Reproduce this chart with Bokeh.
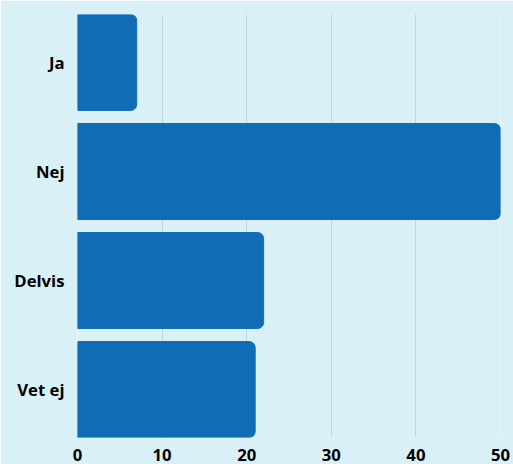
from bokeh.plotting import figure
from bokeh.models import FixedTicker, Range1d
from bokeh.embed import file_html
from bokeh.resources import INLINE

categories = ["Ja", "Nej", "Delvis", "Vet ej"]
values = [7, 50, 22, 21]
x_ticks = [0, 10, 20, 30, 40, 50]

n = len(categories)
ypos = [n - 1 - i for i in range(n)]

p = figure(width=513, height=464, output_backend="svg", toolbar_location=None,
           x_range=Range1d(0, 50), y_range=Range1d(-0.44, n - 1 + 0.44),
           min_border_left=77, min_border_right=13, min_border_top=14, min_border_bottom=27)

bg = "#daf0f7"
p.background_fill_color = bg
p.border_fill_color = bg
p.outline_line_color = None

p.hbar(y=ypos, right=values, left=0, height=0.88, color="#106db5",
       border_radius=(0, 6, 6, 0))

p.ygrid.grid_line_color = None
p.xgrid.grid_line_color = "#c3d4dc"
p.xgrid.grid_line_width = 1
p.xgrid.ticker = FixedTicker(ticks=x_ticks)

p.xaxis.ticker = FixedTicker(ticks=x_ticks)
p.yaxis.ticker = FixedTicker(ticks=ypos)
p.yaxis.major_label_overrides = {y: c for y, c in zip(ypos, categories)}

for ax in (p.xaxis, p.yaxis):
    ax.axis_line_color = None
    ax.major_tick_line_color = None
    ax.minor_tick_line_color = None
    ax.major_tick_out = 0
    ax.major_tick_in = 0
    ax.major_label_text_font = "Open Sans"
    ax.major_label_text_font_style = "bold"
    ax.major_label_text_font_size = "16.7px"
    ax.major_label_text_color = "#000000"
p.yaxis.major_label_standoff = 13
p.xaxis.major_label_standoff = 11

open("out.html", "w").write(file_html(p, INLINE))
